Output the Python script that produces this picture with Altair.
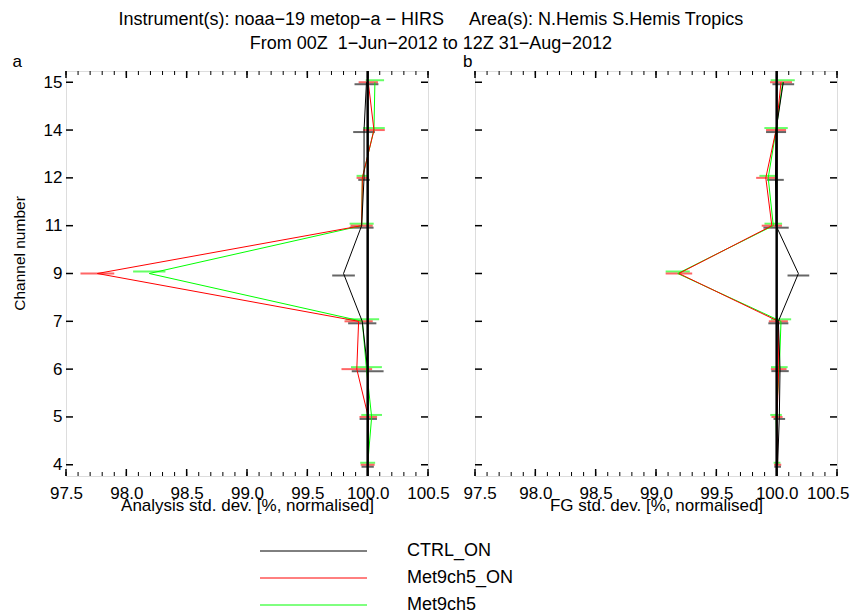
import altair as alt
import pandas as pd

# ---------------- data ----------------
channels = [4, 5, 6, 7, 9, 11, 12, 14, 15]
series = ["CTRL_ON", "Met9ch5_ON", "Met9ch5"]
colors = ["#000000", "#ff0000", "#00ff00"]

# Analysis std. dev. (panel a)
an_ctrl = [100.0, 100.005, 100.0, 99.955, 99.80, 99.95, 99.97, 99.97, 99.99]
an_ctrl_err = [0.051, 0.072, 0.132, 0.117, 0.094, 0.099, 0.048, 0.09, 0.099]
an_met_on = [100.0, 100.005, 99.91, 99.925, 97.76, 99.95, 99.956, 100.052, 100.005]
an_met_on_err = [0.058, 0.073, 0.127, 0.117, 0.14, 0.092, 0.048, 0.09, 0.08]
an_met = [100.0, 100.033, 99.99, 99.956, 98.19, 99.95, 99.956, 100.052, 100.06]
an_met_err = [0.062, 0.086, 0.128, 0.139, 0.134, 0.1, 0.048, 0.09, 0.076]

# FG std. dev. (panel b)
fg_ctrl = [100.008, 100.022, 100.028, 100.014, 100.18, 99.995, 99.99, 99.995, 100.055]
fg_ctrl_err = [0.028, 0.048, 0.072, 0.083, 0.09, 0.105, 0.069, 0.083, 0.09]
fg_met_on = [100.008, 100.003, 100.017, 100.014, 99.19, 99.96, 99.91, 99.995, 100.036]
fg_met_on_err = [0.03, 0.046, 0.065, 0.079, 0.11, 0.084, 0.08, 0.083, 0.091]
fg_met = [100.003, 99.995, 100.022, 100.036, 99.18, 99.972, 99.93, 99.995, 100.05]
fg_met_err = [0.028, 0.048, 0.069, 0.084, 0.1, 0.073, 0.073, 0.097, 0.1]

x_major = [97.5, 98.0, 98.5, 99.0, 99.5, 100.0, 100.5]
x_minor = [round(97.5 + 0.1 * k, 1) for k in range(31)]
ref_value = [100.0]

title_lines = [
    "Instrument(s): noaa\u221219 metop\u2212a \u2212 HIRS\u00a0\u00a0\u00a0\u00a0\u00a0Area(s): N.Hemis S.Hemis Tropics",
    "From 00Z \u00a01\u2212Jun\u22122012 to 12Z 31\u2212Aug\u22122012",
]

# ---------------- layout constants ----------------
W, H = 362, 405
FONT = "Liberation Sans"
FS = 17
err_offsets = {"CTRL_ON": 2, "Met9ch5_ON": 0, "Met9ch5": -2}
draw_order = ["Met9ch5", "Met9ch5_ON", "CTRL_ON"]


def build_df(vals, errs):
    rows = []
    for s, v, e in zip(series, vals, errs):
        for i, (ch, vv, ee) in enumerate(zip(channels, v, e)):
            rows.append({"series": s, "i": i, "channel": ch, "value": vv,
                         "lo": vv - ee, "hi": vv + ee})
    return pd.DataFrame(rows)


df_a = build_df([an_ctrl, an_met_on, an_met], [an_ctrl_err, an_met_on_err, an_met_err])
df_b = build_df([fg_ctrl, fg_met_on, fg_met], [fg_ctrl_err, fg_met_on_err, fg_met_err])

xscale = alt.Scale(domain=[97.5, 100.5], nice=False, zero=False)
yscale = alt.Scale(domain=[-0.235, len(channels) - 1 + 0.235], nice=False, zero=False)
label_expr = "[" + ",".join("'%d'" % c for c in channels) + "][datum.value]"
color_of = dict(zip(series, colors))


def panel(df, letter, xtitle, show_ylabels, with_legend):
    flush_args = dict(labelFlush=True, labelFlushOffset=12) if not show_ylabels else dict(labelFlush=False)
    xaxis = alt.Axis(values=x_major, format=".1f", ticks=False, tickSize=0, domain=False,
                     grid=False, title=xtitle, labelFontSize=FS, titleFontSize=FS,
                     titleFontWeight="normal", labelPadding=9, titlePadding=-4,
                     labelOverlap=False, labelBound=False,
                     labelFont=FONT, titleFont=FONT, labelColor="black", titleColor="black",
                     **flush_args)
    if show_ylabels:
        yaxis = alt.Axis(values=list(range(len(channels))), labelExpr=label_expr, ticks=False,
                         tickSize=0, domain=False, grid=False, title="Channel number",
                         labelFontSize=FS, titleFontSize=15.5, titleFontWeight="normal",
                         labelPadding=4, titlePadding=15.5, labelFont=FONT, titleFont=FONT,
                         labelOverlap=False, titleY=182,
                         labelColor="black", titleColor="black")
    else:
        yaxis = None

    def X(f):
        return alt.X(f, type="quantitative", scale=xscale, axis=xaxis)

    def Y(f):
        return alt.Y(f, type="quantitative", scale=yscale, axis=yaxis)

    minor_df = pd.DataFrame({"v": x_minor})
    major_df = pd.DataFrame({"v": x_major})
    ytick_df = pd.DataFrame({"i": list(range(len(channels)))})

    layers = []
    # frame ticks (inward)
    layers.append(alt.Chart(minor_df).mark_rule(color="black", strokeWidth=1).encode(
        x=X("v"), y=alt.value(H), y2=alt.value(H - 4)))
    layers.append(alt.Chart(minor_df).mark_rule(color="black", strokeWidth=1).encode(
        x=X("v"), y=alt.value(0), y2=alt.value(4)))
    layers.append(alt.Chart(major_df).mark_rule(color="black", strokeWidth=1.5).encode(
        x=X("v"), y=alt.value(H), y2=alt.value(H - 7)))
    layers.append(alt.Chart(major_df).mark_rule(color="black", strokeWidth=1.5).encode(
        x=X("v"), y=alt.value(0), y2=alt.value(7)))
    layers.append(alt.Chart(ytick_df).mark_rule(color="black", strokeWidth=1.5).encode(
        y=Y("i"), x=alt.value(0), x2=alt.value(7)))
    layers.append(alt.Chart(ytick_df).mark_rule(color="black", strokeWidth=1.5).encode(
        y=Y("i"), x=alt.value(W - 7), x2=alt.value(W)))

    # error bars
    for s in draw_order:
        sub = df[df["series"] == s]
        layers.append(alt.Chart(sub).mark_rule(
            color=color_of[s], strokeWidth=2, opacity=0.6, yOffset=err_offsets[s]).encode(
            x=X("lo"), x2="hi:Q", y=Y("i")))
    # lines
    for s in draw_order:
        sub = df[df["series"] == s]
        layers.append(alt.Chart(sub).mark_line(color=color_of[s], strokeWidth=1).encode(
            x=X("value"), y=Y("i"), order="i:Q"))
    # reference line at 100
    layers.append(alt.Chart(pd.DataFrame({"v": ref_value})).mark_rule(
        color="black", strokeWidth=2.5).encode(x=X("v")))

    if with_legend:
        for k, s in enumerate(series):
            ldf = pd.DataFrame({"name": [s]})
            yy = 480 + 27 * k
            layers.append(alt.Chart(ldf).mark_rule(color=color_of[s], strokeWidth=1).encode(
                x=alt.value(194), x2=alt.value(301), y=alt.value(yy)))
            layers.append(alt.Chart(ldf).mark_text(
                align="left", baseline="middle", fontSize=18, font=FONT, color="black").encode(
                x=alt.value(341), y=alt.value(yy), text="name:N"))

    return alt.layer(*layers).properties(
        width=W, height=H,
        title=alt.TitleParams(letter, anchor="start", fontSize=FS, fontWeight="normal",
                              font=FONT, offset=-1, color="black"))


left = panel(df_a, "a", "Analysis std. dev. [%, normalised]", True, True)
right = panel(df_b, "b", "FG std. dev. [%, normalised]", False, False)

chart = alt.hconcat(
    left, right, spacing=47, bounds="flush",
    title=alt.TitleParams(title_lines, anchor="middle", fontSize=18, fontWeight="normal",
                          font=FONT, lineHeight=24, offset=-1, color="black"),
).properties(
    padding={"left": 4, "top": 3, "right": 0, "bottom": 0}
).configure_view(stroke="black", strokeWidth=2).configure(font=FONT)

chart.save("out.html", embed_options={"renderer": "svg", "actions": False})
